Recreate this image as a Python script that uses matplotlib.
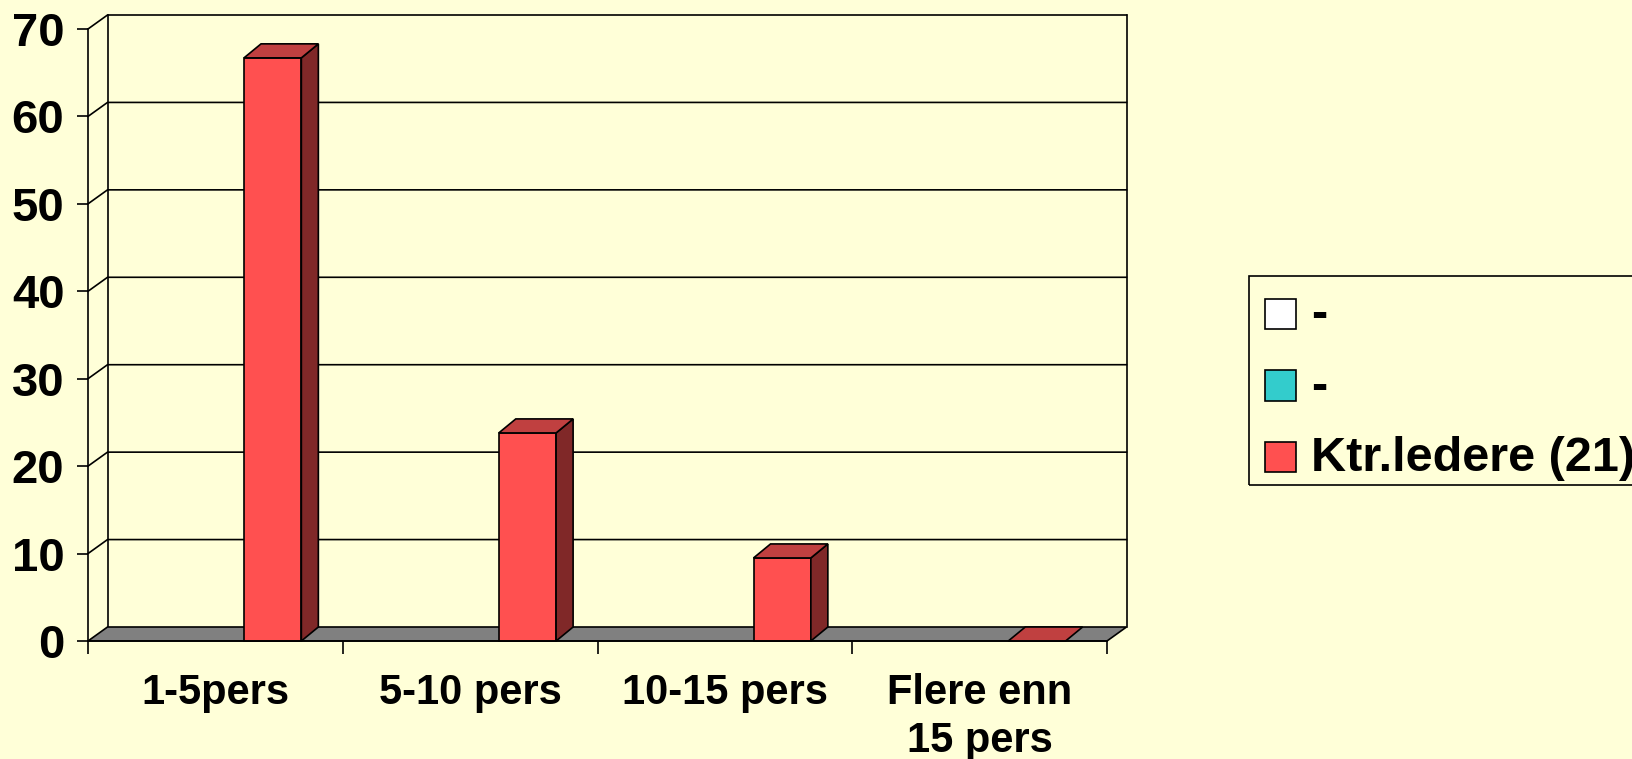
import matplotlib.pyplot as plt
from matplotlib.patches import Polygon, Rectangle

categories = ['1-5pers', '5-10 pers', '10-15 pers', 'Flere enn\n15 pers']
series_names = ['-', '-', 'Ktr.ledere (21)']
series_values = [None, None, [66.7, 23.8, 9.5, 0.0]]
series_colors = ['#FFFFFF', '#33CCCC', '#FF5050']
y_ticks = [0, 10, 20, 30, 40, 50, 60, 70]

bg = '#FFFFD8'
top_col = '#C04040'
side_col = '#802828'
floor_col = '#808080'
lw = 1.2

plt.rcParams['font.family'] = ['Liberation Sans', 'DejaVu Sans']
plt.rcParams['font.weight'] = 'bold'

W, H = 1632, 759
fig = plt.figure(figsize=(W / 100, H / 100), dpi=100, facecolor=bg)

# front plane of the plot in pixels (from top-left)
x0, x1, y0, y1 = 88, 1107, 641, 29
ax = fig.add_axes([x0 / W, (H - y0) / H, (x1 - x0) / W, (y0 - y1) / H])
ax.set_facecolor('none')
n = len(categories)
ax.set_xlim(0, n)
ax.set_ylim(0, 70)

px_x = (x1 - x0) / n
px_y = (y0 - y1) / 70
dxw, dyw = 19.5 / px_x, 14 / px_y     # wall depth
dxb, dyb = 17 / px_x, 14 / px_y       # bar depth

# back wall + gridlines
for v in y_ticks[1:]:
    ax.plot([0, dxw, n + dxw], [v, v + dyw, v + dyw], color='black', lw=lw, clip_on=False, zorder=1)
ax.plot([dxw, dxw], [dyw, 70 + dyw], color='black', lw=lw, clip_on=False, zorder=1)
ax.plot([n + dxw, n + dxw], [dyw, 70 + dyw], color='black', lw=lw, clip_on=False, zorder=1)

# floor
ax.add_patch(Polygon([(0, 0), (n, 0), (n + dxw, dyw), (dxw, dyw)], closed=True,
                     facecolor=floor_col, edgecolor='black', lw=lw, clip_on=False, zorder=2))

# bars
bw = 0.225
for s, vals in enumerate(series_values):
    if vals is None:
        continue
    for i, v in enumerate(vals):
        c = i + 0.275 + s * 0.225
        l, r = c - bw / 2, c + bw / 2
        if v > 0:
            ax.add_patch(Rectangle((l, 0), bw, v, facecolor=series_colors[s], edgecolor='black',
                                   lw=lw, clip_on=False, zorder=3))
            ax.add_patch(Polygon([(r, 0), (r + dxb, dyb), (r + dxb, v + dyb), (r, v)], closed=True,
                                 facecolor=side_col, edgecolor='black', lw=lw, clip_on=False, zorder=3))
        ax.add_patch(Polygon([(l, v), (r, v), (r + dxb, v + dyb), (l + dxb, v + dyb)], closed=True,
                             facecolor=top_col, edgecolor='black', lw=lw, clip_on=False, zorder=3))

# front axes
for side in ['top', 'right']:
    ax.spines[side].set_visible(False)
for side in ['left', 'bottom']:
    ax.spines[side].set_linewidth(lw)
    ax.spines[side].set_zorder(4)
ax.set_yticks(y_ticks)
ax.set_yticklabels([str(t) for t in y_ticks], fontsize=34, fontweight='bold')
ax.tick_params(axis='y', length=8, width=lw, pad=9)
ax.set_xticks(range(n + 1))
ax.set_xticklabels([])
ax.tick_params(axis='x', which='major', length=9, width=lw)
ax.set_xticks([i + 0.5 for i in range(n)], minor=True)
ax.set_xticklabels(categories, minor=True, fontsize=30, fontweight='bold', linespacing=1.25)
ax.tick_params(axis='x', which='minor', length=0, pad=23)

# legend
fig.patches.append(Rectangle((1249 / W, (H - 485) / H), 420 / W, 209 / H, transform=fig.transFigure,
                             facecolor='none', edgecolor='black', lw=lw))
rows = [314, 385.5, 457]
for name, col, yc in zip(series_names, series_colors, rows):
    fig.patches.append(Rectangle((1265 / W, (H - yc - 15) / H), 31 / W, 30 / H, transform=fig.transFigure,
                                 facecolor=col, edgecolor='black', lw=lw))
    fig.text(1311 / W, (H - yc - 14) / H, name, fontsize=35, fontweight='bold', va='baseline', ha='left')

fig.savefig('out.png', dpi=100, facecolor=bg)
